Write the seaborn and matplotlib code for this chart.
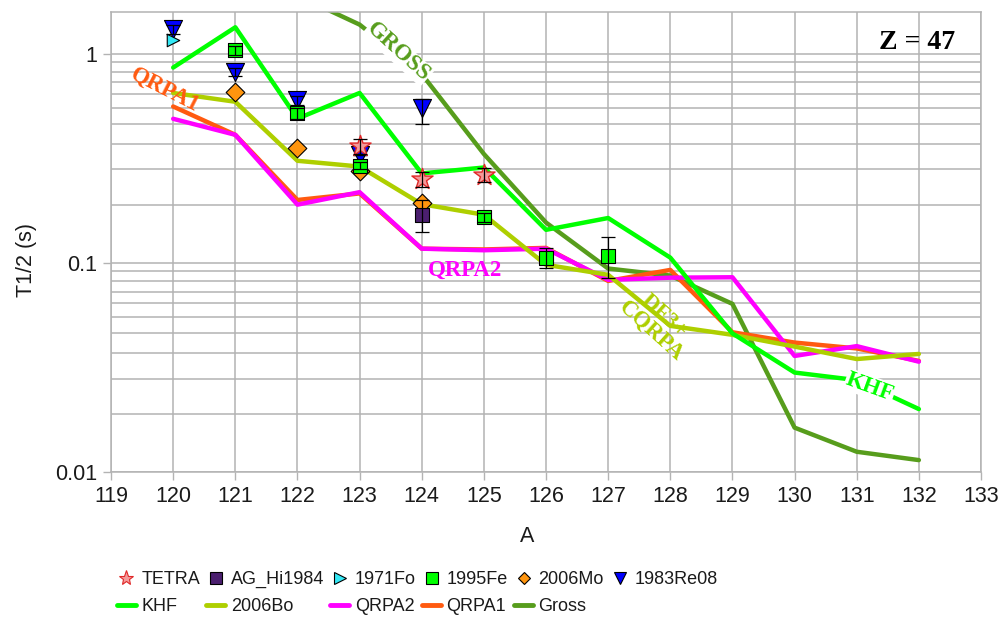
import matplotlib
matplotlib.use("Agg")
import matplotlib.pyplot as plt
from matplotlib.lines import Line2D
from matplotlib.ticker import FixedLocator, FuncFormatter, NullFormatter
import numpy as np
import pandas as pd
import seaborn as sns

# ---- model half-lives (s) versus mass number A, Z = 47 ----
A_model = [120, 121, 122, 123, 124, 125, 126, 127, 128, 129, 130, 131, 132]
khf    = [0.86, 1.34, 0.49, 0.65, 0.268, 0.286, 0.144, 0.164, 0.106, 0.046, 0.0299, 0.0275, 0.0200]
bo2006 = [0.65, 0.59, 0.308, 0.289, 0.191, 0.170, 0.098, 0.0877, 0.050, 0.0453, 0.0398, 0.0347, 0.0367]
qrpa2  = [0.489, 0.41, 0.19, 0.218, 0.117, 0.115, 0.117, 0.083, 0.085, 0.0854, 0.0359, 0.040, 0.0337]
qrpa1  = [0.56, 0.41, 0.20, 0.215, 0.117, 0.116, 0.118, 0.082, 0.0926, 0.0466, 0.0416, 0.039, 0.034]
A_gross = [122, 123, 124, 125, 126, 127, 128, 129, 130, 131, 132]
gross   = [1.9, 1.38, 0.80, 0.332, 0.156, 0.094, 0.087, 0.0637, 0.0163, 0.0125, 0.0114]

# ---- measured half-lives (s) with lower / upper uncertainties ----
tetra_A = [123, 124, 125]
tetra_T = [0.363, 0.252, 0.264]
tetra_lo = [0.03, 0.02, 0.02]
tetra_hi = [0.03, 0.02, 0.02]

aghi_A = [124]
aghi_T = [0.17]
aghi_lo = [0.03]
aghi_hi = [0.03]

fo1971_A = [120]
fo1971_T = [1.17]

fe1995_A = [121, 122, 123, 125, 126, 127]
fe1995_T = [1.04, 0.52, 0.292, 0.165, 0.106, 0.108]
fe1995_lo = [0.05, 0.03, 0.012, 0.008, 0.011, 0.023]
fe1995_hi = [0.05, 0.03, 0.012, 0.008, 0.012, 0.025]

mo2006_A = [121, 122, 123, 124]
mo2006_T = [0.66, 0.356, 0.274, 0.193]

re08_A = [120, 121, 122, 123, 124]
re08_T = [1.31, 0.82, 0.60, 0.33, 0.55]
re08_lo = [0.06, 0.04, 0.03, 0.0, 0.09]
re08_hi = [0.06, 0.04, 0.03, 0.0, 0.06]

x_ticks = list(range(119, 134))
y_ticks = [0.01, 0.1, 1]

# ---- colours ----
c_khf, c_bo, c_q2, c_q1, c_gross = "#00ff00", "#aecf00", "#ff00ff", "#ff5a10", "#579d1c"
c_tetra_edge, c_tetra_face = "#e02828", "#f49a9a"
c_aghi, c_fo, c_fe, c_mo, c_re = "#4b1f6f", "#33e8f5", "#00ff00", "#ff950e", "#0000ff"

sns.set_theme(style="whitegrid")
plt.rcParams["font.family"] = ["Liberation Sans", "DejaVu Sans"]
grid_c = "#b3b3b3"

fig = plt.figure(figsize=(10.04, 6.2), dpi=100)
ax = fig.add_axes([0.1106, 0.2387, 0.8665, 0.7419])
ax.set_facecolor("white")

# model curves (lowest drawn first)
curves = [
    (A_gross, gross, c_gross, 2),
    (A_model, qrpa1, c_q1, 3),
    (A_model, qrpa2, c_q2, 4),
    (A_model, bo2006, c_bo, 5),
    (A_model, khf, c_khf, 6),
]
for xs, ys, col, z in curves:
    df = pd.DataFrame({"A": xs, "T": ys})
    sns.lineplot(data=df, x="A", y="T", color=col, linewidth=3.2, ax=ax,
                 zorder=z, legend=False, sort=False)

# experimental points
def points(xs, ys, marker, face, size, edge="black", lw=0.8, z=8):
    df = pd.DataFrame({"A": xs, "T": ys})
    sns.scatterplot(data=df, x="A", y="T", marker=marker, color=face, s=size ** 2,
                    edgecolor=edge, linewidth=lw, ax=ax, zorder=z, legend=False)

def errs(xs, ys, lo, hi, z=9):
    ax.errorbar(xs, ys, yerr=[lo, hi], fmt="none", ecolor="black",
                elinewidth=0.9, capsize=5, capthick=0.9, zorder=z)

points(re08_A, re08_T, "v", c_re, 13)
errs(re08_A, re08_T, re08_lo, re08_hi)
points(fo1971_A, fo1971_T, ">", c_fo, 9)
points(mo2006_A, mo2006_T, "D", c_mo, 9.5)
points(aghi_A, aghi_T, "s", c_aghi, 10.5)
errs(aghi_A, aghi_T, aghi_lo, aghi_hi)
points(fe1995_A, fe1995_T, "s", c_fe, 9.5)
errs(fe1995_A, fe1995_T, fe1995_lo, fe1995_hi)
points(tetra_A, tetra_T, "*", c_tetra_face, 16, edge=c_tetra_edge, lw=1.0, z=10)
errs(tetra_A, tetra_T, tetra_lo, tetra_hi, z=11)

# axes, scales, grid
ax.set_yscale("log")
ax.set_xlim(119, 133)
ax.set_ylim(0.01, 1.585)
ax.set_xticks(x_ticks)
ax.yaxis.set_major_locator(FixedLocator(y_ticks))
ax.yaxis.set_major_formatter(FuncFormatter(lambda v, p: f"{v:g}"))
minor = [(1 + 0.9 * k) * 10.0 ** n for n in (-2, -1, 0) for k in range(1, 10)]
ax.yaxis.set_minor_locator(FixedLocator(minor))
ax.yaxis.set_minor_formatter(NullFormatter())
ax.grid(which="major", color=grid_c, linewidth=1.1)
ax.grid(which="minor", axis="y", color=grid_c, linewidth=1.1)
ax.tick_params(axis="both", which="major", direction="out", length=6, width=1,
               color=grid_c, labelsize=15.5, labelcolor="#1a1a1a", pad=4,
               bottom=True, left=True)
ax.tick_params(axis="y", which="minor", length=0)
for s in ax.spines.values():
    s.set_color(grid_c)
    s.set_linewidth(1.1)

ax.set_xlabel("A", fontsize=15.5, color="#1a1a1a")
ax.set_ylabel("T1/2 (s)", fontsize=15.5, color="#1a1a1a")
ax.xaxis.set_label_coords(0.478, -0.118)
ax.yaxis.set_label_coords(-0.085, 0.46)

# curve labels
box = dict(facecolor="white", edgecolor="none", pad=0.5)
lab = dict(family=["Liberation Serif", "DejaVu Serif"], fontweight="bold",
           ha="center", va="center", zorder=7)
ax.text(119.87, 0.673, "QRPA1", color=c_q1, fontsize=16.5, rotation=-27, **lab)
ax.text(123.62, 1.02, "GROSS", color=c_gross, fontsize=16.5, rotation=-42, bbox=box, **lab)
ax.text(124.70, 0.0926, "QRPA2", color=c_q2, fontsize=16.5, **lab)
ax.text(127.80, 0.0512, "DF3+\nCQRPA", color=c_bo, fontsize=16.5, rotation=-42,
        linespacing=0.85, **lab)
ax.text(131.21, 0.0255, "KHF", color=c_khf, fontsize=16.5, rotation=-20, bbox=box, **lab)
ax.text(131.97, 1.129, "Z = 47", color="black", fontsize=20, **lab)

# legend (filled column by column)
def mk(marker, face, size, edge="black"):
    return Line2D([], [], linestyle="none", marker=marker, markerfacecolor=face,
                  markeredgecolor=edge, markersize=size, markeredgewidth=0.8)

def ln(col):
    return Line2D([], [], color=col, linewidth=3.5)

handles = [mk("*", c_tetra_face, 11, c_tetra_edge), ln(c_khf),
           mk("s", c_aghi, 8), ln(c_bo),
           mk(">", c_fo, 8), ln(c_q2),
           mk("s", c_fe, 8), ln(c_q1),
           mk("D", c_mo, 6.5), ln(c_gross),
           mk("v", c_re, 9)]
labels = ["TETRA", "KHF", "AG_Hi1984", "2006Bo", "1971Fo", "QRPA2",
          "1995Fe", "QRPA1", "2006Mo", "Gross", "1983Re08"]
fig.legend(handles, labels, ncol=6, loc="upper left", bbox_to_anchor=(0.1165, 0.079),
           frameon=False, handlelength=1.05, handletextpad=0.3, columnspacing=0.35,
           labelspacing=0.57, borderpad=0, borderaxespad=0,
           prop=dict(family=["Liberation Sans", "DejaVu Sans"], size=13),
           labelcolor="#1a1a1a")

fig.savefig("out.png", dpi=100)
